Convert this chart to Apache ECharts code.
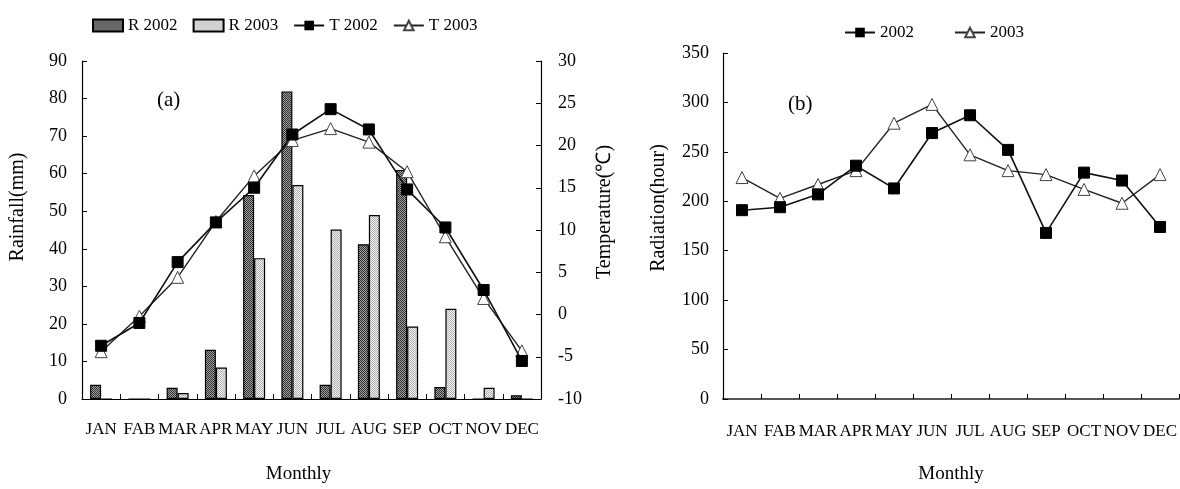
<!DOCTYPE html>
<html>
<head>
<meta charset="utf-8">
<script src="https://cdn.jsdelivr.net/npm/echarts@6/dist/echarts.min.js"></script>
<style>
html,body{margin:0;padding:0;background:#fff;}
#c{width:1180px;height:489px;}
</style>
</head>
<body>
<div id="c"></div>
<script>
// ---- data ----
const months = ['JAN','FAB','MAR','APR','MAY','JUN','JUL','AUG','SEP','OCT','NOV','DEC'];
const rain2002 = [3.8, 0, 3.0, 13.1, 54.3, 81.9, 3.8, 41.2, 61.0, 3.2, 0, 1.0];
const rain2003 = [0, 0, 1.6, 8.4, 37.5, 57.0, 45.1, 49.0, 19.3, 24.0, 3.0, 0];
const temp2002 = [-3.7, -1.0, 6.2, 10.9, 15.0, 21.3, 24.3, 21.9, 14.8, 10.3, 2.9, -5.5];
const temp2003 = [-4.4, -0.2, 4.4, 11.0, 16.4, 20.6, 22.0, 20.4, 16.9, 9.2, 1.9, -4.3];
const rad2002 = [191, 194, 207, 236, 213, 269, 287, 252, 168, 229, 221, 174];
const rad2003 = [224, 203, 217, 231, 279, 298, 247, 231, 227, 212, 198, 227];

const FONT = 'Liberation Serif';

function pattern(base, dot) {
  const c = document.createElement('canvas');
  c.width = 2; c.height = 2;
  const g = c.getContext('2d');
  g.fillStyle = base; g.fillRect(0, 0, 2, 2);
  g.fillStyle = dot; g.fillRect(0, 0, 1, 1); g.fillRect(1, 1, 1, 1);
  return { image: c, repeat: 'repeat' };
}
const darkPat = pattern('#a0a0a0', '#303030');
const lightPat = pattern('#f2f2f2', '#b0b0b0');

const axisLine = { show: true, lineStyle: { color: '#000', width: 1.2 } };
const tickIn = { show: true, inside: true, length: 5, lineStyle: { color: '#000', width: 1 } };
const yLab = (m) => ({ color: '#000', fontFamily: FONT, fontSize: 18, margin: m });
const xLab = { color: '#000', fontFamily: FONT, fontSize: 17, interval: 0, margin: 22, hideOverlap: false };
const nameStyle = { color: '#000', fontFamily: FONT, fontSize: 19 };

const sqLine = {
  type: 'line', symbol: 'rect', symbolSize: 11,
  lineStyle: { color: '#111', width: 1.6 },
  itemStyle: { color: '#000', borderColor: '#000' }, z: 5
};
const triLine = {
  type: 'line', symbol: 'triangle', symbolSize: 12,
  lineStyle: { color: '#222', width: 1.4 },
  itemStyle: { color: '#fff', borderColor: '#444', borderWidth: 1 }, z: 4
};

const chart = echarts.init(document.getElementById('c'));
chart.setOption({
  animation: false,
  backgroundColor: '#fff',
  title: [
    { text: '(a)', left: 152, top: 85, textStyle: { fontFamily: FONT, fontSize: 21, fontWeight: 'normal', color: '#000' } },
    { text: '(b)', left: 783, top: 89, textStyle: { fontFamily: FONT, fontSize: 21, fontWeight: 'normal', color: '#000' } }
  ],
  legend: [
    {
      left: 87, top: 12, itemWidth: 30, itemHeight: 12, itemGap: 15,
      textStyle: { fontFamily: FONT, fontSize: 17, color: '#000' },
      data: [{ name: 'R 2002', icon: 'rect' }, { name: 'R 2003', icon: 'rect' }, 'T 2002', 'T 2003']
    },
    {
      left: 839, top: 19, itemWidth: 30, itemHeight: 12, itemGap: 40,
      textStyle: { fontFamily: FONT, fontSize: 17, color: '#000' },
      data: ['2002', '2003']
    }
  ],
  grid: [
    { left: 82, right: 639, top: 61, bottom: 87 },
    { left: 723, right: 0, top: 53, bottom: 83 }
  ],
  xAxis: [
    {
      type: 'category', gridIndex: 0, data: months,
      axisLine: axisLine, axisTick: Object.assign({ interval: 0 }, tickIn), axisLabel: xLab,
      name: 'Monthly', nameLocation: 'middle', nameGap: 66,
      nameTextStyle: Object.assign({ padding: [0, 26, 0, 0] }, nameStyle)
    },
    {
      type: 'category', gridIndex: 1, data: months,
      axisLine: { show: true, lineStyle: { color: '#555', width: 2 } },
      axisTick: Object.assign({ interval: 0 }, tickIn), axisLabel: Object.assign({}, xLab, { margin: 24 }),
      name: 'Monthly', nameLocation: 'middle', nameGap: 66, nameTextStyle: nameStyle
    }
  ],
  yAxis: [
    {
      type: 'value', gridIndex: 0, min: 0, max: 90, interval: 10, position: 'left',
      axisLine: axisLine, axisTick: tickIn, axisLabel: yLab(15), splitLine: { show: false }
    },
    {
      type: 'value', gridIndex: 0, min: -10, max: 30, interval: 5, position: 'right',
      axisLine: axisLine, axisTick: tickIn, axisLabel: yLab(17), splitLine: { show: false }
    },
    {
      type: 'value', gridIndex: 1, min: 0, max: 350, interval: 50, position: 'left',
      axisLine: axisLine, axisTick: tickIn, axisLabel: yLab(14), splitLine: { show: false }
    }
  ],
  graphic: [
    { type: 'text', x: 18, y: 207, rotation: Math.PI / 2,
      style: { text: 'Rainfall(mm)', font: '20px "Liberation Serif"', fill: '#000', align: 'center', verticalAlign: 'middle' } },
    { type: 'text', x: 605, y: 212, rotation: Math.PI / 2,
      style: { text: 'Temperature(℃)', font: '20px "Liberation Serif"', fill: '#000', align: 'center', verticalAlign: 'middle' } },
    { type: 'text', x: 659, y: 208, rotation: Math.PI / 2,
      style: { text: 'Radiation(hour)', font: '20px "Liberation Serif"', fill: '#000', align: 'center', verticalAlign: 'middle' } }
  ],
  series: [
    {
      name: 'R 2002', type: 'bar', xAxisIndex: 0, yAxisIndex: 0, data: rain2002,
      barWidth: 11, barGap: '0%',
      itemStyle: { color: darkPat, borderColor: '#000', borderWidth: 1.2 }
    },
    {
      name: 'R 2003', type: 'bar', xAxisIndex: 0, yAxisIndex: 0, data: rain2003,
      barWidth: 11, barGap: '0%',
      itemStyle: { color: lightPat, borderColor: '#000', borderWidth: 1.2 }
    },
    Object.assign({ name: 'T 2002', xAxisIndex: 0, yAxisIndex: 1, data: temp2002 }, sqLine),
    Object.assign({ name: 'T 2003', xAxisIndex: 0, yAxisIndex: 1, data: temp2003 }, triLine),
    Object.assign({ name: '2002', xAxisIndex: 1, yAxisIndex: 2, data: rad2002 }, sqLine),
    Object.assign({ name: '2003', xAxisIndex: 1, yAxisIndex: 2, data: rad2003 }, triLine)
  ]
});
</script>
</body>
</html>
